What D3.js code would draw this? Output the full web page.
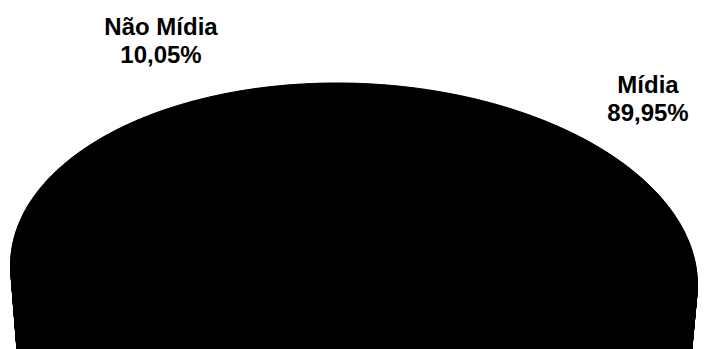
<!DOCTYPE html>
<html>
<head>
<meta charset="utf-8">
<script src="https://cdn.jsdelivr.net/npm/d3@7"></script>
<style>
  html, body { margin: 0; padding: 0; background: #ffffff; overflow: hidden; }
  svg { display: block; }
</style>
</head>
<body>
<svg id="chart" width="707" height="349"></svg>
<script>
// Slices of the 3D pie, in drawing order (clockwise from the back edge)
const categories = ["Mídia", "Não Mídia"];
const shares = [89.95, 10.05];
const shareLabels = ["89,95%", "10,05%"];

const W = 707, H = 349;
const svg = d3.select("#chart");

// Top face and (farther, smaller) bottom face of the extruded disc
const topFace  = { cx: 354, cy: 275, rx: 343, ry: 192 };
const baseFace = { cx: 353, cy: 425, rx: 330, ry: 185 };
const skew = 0.089;   // slight horizontal lean of the tilted disc

// d3 angle: 0 at the back (12 o'clock), growing clockwise
function project(face, a, r = 1) {
  const dy = -face.ry * r * Math.cos(a);
  const x = face.cx + face.rx * r * Math.sin(a) + skew * dy;
  return [x, face.cy + dy];
}

const pie = d3.pie().sort(null).value(d => d);
const arcs = pie(shares);

// angular sampling along each slice's rim
function rimAngles(d) {
  const n = Math.max(8, Math.ceil((d.endAngle - d.startAngle) / 0.01));
  const s = d3.scaleLinear().domain([0, n]).range([d.startAngle, d.endAngle]);
  return d3.range(n + 1).map(s);
}

const line = d3.line();
const fill = "#000000";

const gBase = svg.append("g");
const gSide = svg.append("g");
const gTop = svg.append("g");

arcs.forEach((d, i) => {
  const angs = rimAngles(d);
  const topRim = angs.map(a => project(topFace, a));
  const baseRim = angs.map(a => project(baseFace, a));
  const topC = project(topFace, 0, 0);
  const baseC = project(baseFace, 0, 0);

  // bottom face
  gBase.append("path")
    .attr("d", line([baseC, ...baseRim]) + "Z")
    .attr("fill", fill).attr("stroke", fill).attr("stroke-width", 0.6);

  // outer wall, segment by segment
  for (let k = 0; k < angs.length - 1; k++) {
    gSide.append("path")
      .attr("d", line([topRim[k], topRim[k + 1], baseRim[k + 1], baseRim[k]]) + "Z")
      .attr("fill", fill).attr("stroke", fill).attr("stroke-width", 0.6);
  }

  // radial walls at both cut edges
  [0, angs.length - 1].forEach(k => {
    gSide.append("path")
      .attr("d", line([topC, topRim[k], baseRim[k], baseC]) + "Z")
      .attr("fill", fill).attr("stroke", fill).attr("stroke-width", 0.6);
  });

  // top face
  gTop.append("path")
    .attr("d", line([topC, ...topRim]) + "Z")
    .attr("fill", fill).attr("stroke", fill).attr("stroke-width", 0.6);
});

// Data labels
const labelPos = [
  { x: 648, y: 93 },   // Mídia
  { x: 161, y: 35 }    // Não Mídia
];
const labels = svg.append("g")
  .attr("font-family", "'Liberation Sans', Arial, sans-serif")
  .attr("font-weight", "bold")
  .attr("font-size", 24)
  .attr("fill", "#000")
  .attr("text-anchor", "middle");

arcs.forEach((d, i) => {
  const t = labels.append("text").attr("x", labelPos[i].x).attr("y", labelPos[i].y);
  t.append("tspan").attr("x", labelPos[i].x).text(categories[i]);
  t.append("tspan").attr("x", labelPos[i].x).attr("dy", 28).text(shareLabels[i]);
});
</script>
</body>
</html>
